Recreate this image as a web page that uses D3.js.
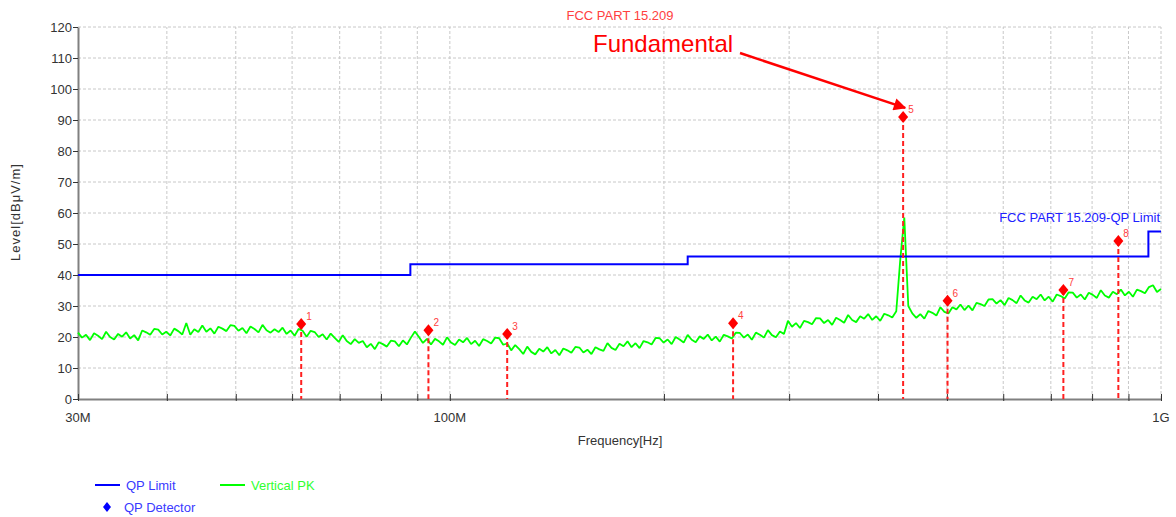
<!DOCTYPE html>
<html>
<head>
<meta charset="utf-8">
<script src="https://cdn.jsdelivr.net/npm/d3@7"></script>
<style>
	body { margin: 0; background: #fff; }
	text { font-family: "Liberation Sans", Arial, sans-serif; }
</style>
</head>
<body>
<svg id="chart" width="1176" height="517"></svg>
<script>
//Axis ticks and labels.
var levelTicks = [0, 10, 20, 30, 40, 50, 60, 70, 80, 90, 100, 110, 120];
var freqLabelTicks = [30, 100, 1000];
var freqLabels = ["30M", "100M", "1G"];
var freqGrid = [40, 50, 60, 70, 80, 90, 100, 200, 300, 400, 500, 600, 700, 800, 900, 1000];

//QP limit (MHz / dBuV/m).
var limitFreq = [30, 88, 88, 216, 216, 960, 960, 1000];
var limitLevel = [40, 40, 43.5, 43.5, 46, 46, 54, 54];

//QP detector markers.
var markerFreq = [61.8, 93.3, 120.4, 250.2, 433.9, 501.0, 729.0, 871.0];
var markerLevel = [24.2, 22.2, 21.0, 24.4, 91.0, 31.7, 35.2, 51.0];
var markerName = ["1", "2", "3", "4", "5", "6", "7", "8"];

//Vertical PK sweep, 30M..1G.
var traceStart = 30;
var traceStop = 1000;
var traceLevel = [
	21.4, 19.8, 20.7, 19.0, 21.2, 20.4, 19.3, 21.7, 20.0, 19.2, 21.0, 20.1, 21.5, 19.5, 20.6, 18.9,
	22.1, 21.5, 20.7, 22.6, 22.4, 20.8, 21.7, 20.5, 22.7, 21.9, 20.8, 24.5, 20.7, 22.5, 21.6,
	23.7, 21.7, 22.8, 21.1, 23.3, 22.7, 21.9, 23.8, 23.6, 22.0, 22.9, 21.2, 23.4, 22.6, 21.5, 23.9, 22.2, 21.4,
	22.5, 21.6, 23.0, 21.0, 22.1, 20.4, 22.6, 22.0,
	20.1, 22.0, 21.6, 20.0, 20.9, 19.2, 21.1,
	19.7, 18.4, 20.6, 18.7, 17.7, 19.3, 18.1,
	18.7, 16.7, 17.8, 16.1, 18.3, 17.7, 16.9, 18.8, 18.6, 17.0,
	18.9, 17.6, 19.8, 21.8, 20.0, 18.1, 19.4, 17.6,
	19.4, 18.6, 17.5, 19.9, 18.2, 17.4, 19.2, 18.3, 19.7, 17.7, 18.8, 17.1, 19.3, 18.7, 17.9, 19.8, 19.6,
	17.5, 17.9, 15.7, 17.4, 16.1,
	14.5, 16.9, 15.2, 14.4, 16.2, 15.3, 16.7, 14.7, 15.8, 14.1, 16.3, 15.7, 14.9, 16.8, 16.6, 15.0, 15.9, 14.5, 16.7, 16.0,
	15.5, 18.0, 16.5, 15.8, 17.8, 17.0, 18.6, 16.7, 18.0, 16.4, 18.7, 18.3, 17.6, 19.7, 19.6, 18.2, 19.2,
	17.7, 20.0, 19.2, 18.2, 20.7, 19.1, 18.3, 20.2, 19.4, 20.8, 18.9, 20.1, 18.5, 20.7, 20.2, 19.5, 21.4, 21.3, 19.8, 20.8, 19.1, 21.4, 20.7,
	19.8, 22.2, 20.6, 19.9, 21.8, 21.0,
	25.2, 23.3, 24.5, 22.9, 25.2, 24.8, 24.1, 26.1, 26.0, 24.5, 25.5, 23.9, 26.2, 25.5, 24.6, 27.1, 25.5, 24.8, 26.7, 25.9, 27.4, 25.5, 26.7, 25.2, 27.5, 27.0, 26.3, 28.3,
	45.0, 58.5, 30.0,
	27.6, 26.2, 27.4, 25.9, 28.4, 27.8, 26.9, 29.6, 28.1, 27.6,
	29.6, 28.9, 30.5, 28.7, 30.1, 28.6, 31.0, 30.6, 30.0, 32.1, 32.2, 30.8, 31.9,
	30.3, 32.6, 31.9, 30.9, 33.4, 31.8, 31.1, 33.0, 32.2, 33.7, 31.8, 33.0, 31.4, 33.7, 33.2,
	32.4, 34.4, 34.3, 32.7, 33.7, 32.1, 34.3, 33.6, 32.6, 35.1, 33.4, 32.7, 34.6, 33.8,
	35.3, 33.4, 34.6, 33.0, 35.3, 34.8, 34.1, 36.1, 36.7, 34.5, 35.5
];

var svg = d3.select("#chart");

//Scales.
var x = d3.scaleLog().domain([30, 1000]).range([78, 1161]);
var y = d3.scaleLinear().domain([0, 120]).range([399, 27]);

//Grid lines.
svg.append("g")
	.selectAll("line")
	.data(levelTicks.slice(1))
	.enter()
	.append("line")
	.attr("x1", x(30)).attr("x2", x(1000))
	.attr("y1", function(d){ return y(d); })
	.attr("y2", function(d){ return y(d); })
	.attr("stroke", "#c8c8c8")
	.attr("stroke-dasharray", "3,2");

svg.append("g")
	.selectAll("line")
	.data(freqGrid)
	.enter()
	.append("line")
	.attr("x1", function(d){ return x(d); })
	.attr("x2", function(d){ return x(d); })
	.attr("y1", y(0)).attr("y2", y(120))
	.attr("stroke", "#c8c8c8")
	.attr("stroke-dasharray", "3,2");

//Y axis.
var yAxis = svg.append("g")
	.attr("transform", "translate(" + x(30) + ",0)")
	.call(d3.axisLeft(y).tickValues(levelTicks).tickSize(5).tickSizeOuter(0));
yAxis.select(".domain").attr("stroke", "#808080").attr("stroke-width", 2);
yAxis.selectAll(".tick line").attr("stroke", "#333");
yAxis.selectAll(".tick text")
	.attr("x", -6)
	.attr("fill", "#333")
	.style("font-size", "13px")
	.style("font-family", "Liberation Sans, Arial, sans-serif");

//X axis: unlabeled minor ticks, then labeled ones.
var xAxis = svg.append("g")
	.attr("transform", "translate(0," + y(0) + ")")
	.call(d3.axisBottom(x).tickValues(freqGrid.concat([30])).tickSize(-5).tickSizeOuter(0).tickFormat(""));
xAxis.select(".domain").attr("stroke", "#808080").attr("stroke-width", 2);
xAxis.selectAll(".tick line").attr("stroke", "#333").attr("y2", -5).attr("y1", 2);

svg.append("g")
	.selectAll("text")
	.data(freqLabelTicks)
	.enter()
	.append("text")
	.attr("x", function(d){ return x(d); })
	.attr("y", 422)
	.attr("text-anchor", "middle")
	.attr("fill", "#333")
	.style("font-size", "13px")
	.text(function(d, i){ return freqLabels[i]; });

//Axis titles.
svg.append("text")
	.attr("transform", "translate(20,212) rotate(-90)")
	.attr("text-anchor", "middle")
	.attr("fill", "#333")
	.style("font-size", "13px")
	.style("letter-spacing", "1px")
	.text("Level[dB\u03bcV/m]");

svg.append("text")
	.attr("x", 620)
	.attr("y", 445)
	.attr("text-anchor", "middle")
	.attr("fill", "#333")
	.style("font-size", "13px")
	.text("Frequency[Hz]");

//Title.
svg.append("text")
	.attr("x", 620)
	.attr("y", 20)
	.attr("text-anchor", "middle")
	.attr("fill", "#ff4040")
	.style("font-size", "13px")
	.text("FCC PART 15.209");

//Vertical PK trace.
var traceFreq = traceLevel.map(function(d, i){
	return traceStart * Math.pow(traceStop / traceStart, i / (traceLevel.length - 1));
});
var traceLine = d3.line()
	.x(function(d, i){ return x(traceFreq[i]); })
	.y(function(d){ return y(d); });

svg.append("path")
	.datum(traceLevel)
	.attr("d", traceLine)
	.attr("fill", "none")
	.attr("stroke", "#00ff00")
	.attr("stroke-width", 1.8)
	.attr("stroke-linejoin", "bevel");

//QP limit line.
var limitLine = d3.line()
	.x(function(d, i){ return x(limitFreq[i]); })
	.y(function(d){ return y(d); });

svg.append("path")
	.datum(limitLevel)
	.attr("d", limitLine)
	.attr("fill", "none")
	.attr("stroke", "#0000ff")
	.attr("stroke-width", 2);

svg.append("text")
	.attr("x", 1160)
	.attr("y", 222)
	.attr("text-anchor", "end")
	.attr("fill", "#2020ff")
	.style("font-size", "13px")
	.text("FCC PART 15.209-QP Limit");

//QP detector markers with dashed drop lines.
var markers = svg.append("g")
	.selectAll("g")
	.data(markerLevel)
	.enter()
	.append("g")
	.attr("transform", function(d, i){ return "translate(" + x(markerFreq[i]) + "," + y(d) + ")"; });

markers.append("line")
	.attr("x1", 0).attr("x2", 0)
	.attr("y1", 0)
	.attr("y2", function(d){ return y(0) - y(d); })
	.attr("stroke", "#ff2020")
	.attr("stroke-width", 2)
	.attr("stroke-dasharray", "5,3");

markers.append("path")
	.attr("d", "M0,-6L5,0L0,6L-5,0Z")
	.attr("fill", "#ff0000");

markers.append("text")
	.attr("x", 5)
	.attr("y", -4)
	.attr("fill", "#ff4040")
	.style("font-size", "10px")
	.text(function(d, i){ return markerName[i]; });

//Fundamental annotation with arrow.
svg.append("defs")
	.append("marker")
	.attr("id", "arrow_head")
	.attr("viewBox", "0 0 10 10")
	.attr("refX", 9)
	.attr("refY", 5)
	.attr("markerWidth", 6)
	.attr("markerHeight", 5)
	.attr("orient", "auto")
	.attr("markerUnits", "strokeWidth")
	.append("path")
	.attr("d", "M0,0L10,5L0,10Z")
	.attr("fill", "#ff0000");

svg.append("text")
	.attr("x", 593)
	.attr("y", 52)
	.attr("fill", "#ff0000")
	.style("font-size", "24px")
	.text("Fundamental");

svg.append("line")
	.attr("x1", 740)
	.attr("y1", 53)
	.attr("x2", x(markerFreq[4]) + 2)
	.attr("y2", y(markerLevel[4]) - 9)
	.attr("stroke", "#ff0000")
	.attr("stroke-width", 2.5)
	.attr("marker-end", "url(#arrow_head)");

//Legend.
var legend = svg.append("g");

legend.append("line")
	.attr("x1", 95).attr("x2", 120)
	.attr("y1", 485).attr("y2", 485)
	.attr("stroke", "#0000ff")
	.attr("stroke-width", 2);
legend.append("text")
	.attr("x", 126).attr("y", 490)
	.attr("fill", "#3a3aff")
	.style("font-size", "13px")
	.text("QP Limit");

legend.append("line")
	.attr("x1", 220).attr("x2", 245)
	.attr("y1", 485).attr("y2", 485)
	.attr("stroke", "#00ff00")
	.attr("stroke-width", 2);
legend.append("text")
	.attr("x", 251).attr("y", 490)
	.attr("fill", "#30ff30")
	.style("font-size", "13px")
	.text("Vertical PK");

legend.append("path")
	.attr("transform", "translate(107,507)")
	.attr("d", "M0,-5L4,0L0,5L-4,0Z")
	.attr("fill", "#0000ff");
legend.append("text")
	.attr("x", 124).attr("y", 512)
	.attr("fill", "#3a3aff")
	.style("font-size", "13px")
	.text("QP Detector");
</script>
</body>
</html>
